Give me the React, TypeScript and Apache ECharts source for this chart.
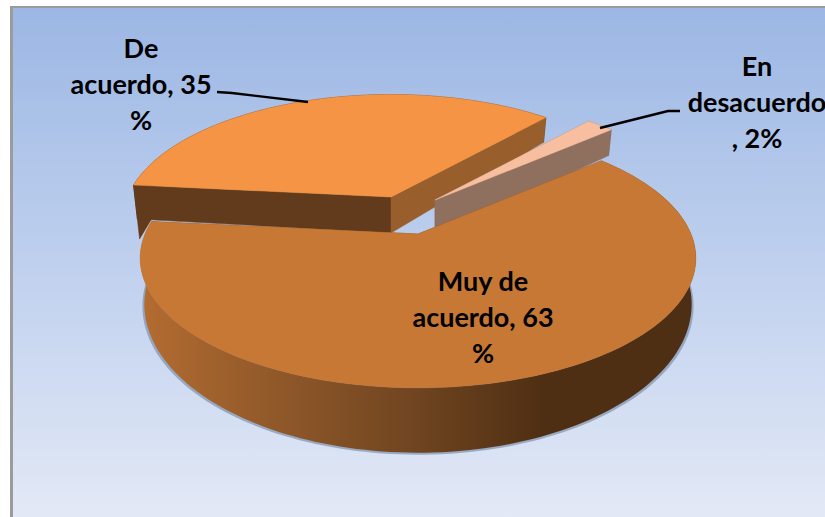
import React, { useEffect, useRef } from "react";
import * as echarts from "echarts";

const categories = ["De acuerdo", "En desacuerdo", "Muy de acuerdo"];
const percentages = [35, 2, 63];
const labelTexts = ["De\nacuerdo, 35\n%", "En\ndesacuerdo\n, 2%", "Muy de\nacuerdo, 63\n%"];

const FIRST_ANGLE = 185.8;
const CX = 418, CY = 234, RX = 273, RY = 125.2, K = 0.186;

const sliceStyles = [
  { dx: -27, dy: -37, scale: 0.965, depth: 36, pow: 3, top: "#f49444", startWall: "#623a1c", endWall: "#985e2b", outer: "#623a1c", tail: true },
  { dx: 17, dy: -34, scale: 0.955, depth: 36, pow: 3, top: "#f7bfa0", startWall: "#8f6f5e", endWall: "#8f6f5e", outer: "#8f6f5e", tail: false },
  { dx: 0, dy: 0, scale: 1, depth: 43, pow: 2, top: "#c77835", startWall: "#7a4a20", endWall: "#7a4a20", outer: "gradient", tail: false },
];

function project(deg: number, r: number, s: any, lower: boolean): number[] {
  const a = (deg * Math.PI) / 180;
  const X = Math.cos(a) * r * s.scale;
  const Y = Math.sin(a) * r * s.scale;
  const f = 1 / (1 - K * Y);
  const w = lower ? 0.985 : 1;
  const d = lower ? s.depth * Math.pow(f, s.pow) : 0;
  return [CX + s.dx + RX * X * f * w, CY + s.dy + RY * Y * f + d];
}

function arc(from: number, to: number, s: any, lower: boolean): number[][] {
  const out: number[][] = [];
  const n = Math.max(4, Math.ceil((to - from) / 1.5));
  for (let i = 0; i <= n; i++) out.push(project(from + ((to - from) * i) / n, 1, s, lower));
  return out;
}

const total = percentages.reduce((a, b) => a + b, 0);

export default function App() {
  const ref = useRef<HTMLDivElement>(null);
  useEffect(() => {
    document.body.style.margin = "0";
    const chart = echarts.init(ref.current!, undefined, { renderer: "svg" });
    const wallFill = new echarts.graphic.LinearGradient(
      140, 0, 697, 0,
      [
        { offset: 0, color: "#b46c31" },
        { offset: 0.25, color: "#8f5829" },
        { offset: 0.5, color: "#6f4420" },
        { offset: 0.72, color: "#4f2f13" },
        { offset: 1, color: "#4f2f13" },
      ],
      true as any
    );
    const renderItem = (params: any, api: any) => {
      const i = params.dataIndex;
      let before = 0;
      for (let j = 0; j < i; j++) before += percentages[j];
      const a0 = FIRST_ANGLE + (before / total) * 360;
      const a1 = a0 + (api.value(0) / total) * 360;
      const s = sliceStyles[i];
      const apexT = project(0, 0, s, false);
      const apexB = project(0, 0, s, true);
      const topArc = arc(a0, a1, s, false);
      const botArc = arc(a0, a1, s, true);
      const poly = (points: number[][], fill: any, extra: any = {}) => ({
        type: "polygon",
        shape: { points },
        style: { fill, stroke: fill === wallFill ? null : fill, lineWidth: 0.5, ...extra },
      });
      const children: any[] = [];
      if (s.outer === "gradient") {
        children.push(
          poly(
            botArc.map((p) => [CX + (p[0] - CX) * 1.007, p[1] + 2]).concat([apexB]),
            "#7f91ad",
            { opacity: 0.7, stroke: null }
          )
        );
      }
      if (s.tail) {
        const p = topArc[0];
        children.push(poly([p, [p[0] + 6, p[1] + 54], [p[0] + 18, p[1] + 34]], s.startWall));
      }
      children.push(poly([apexT, topArc[0], botArc[0], apexB], s.startWall));
      children.push(poly(topArc.concat(botArc.slice().reverse()), s.outer === "gradient" ? wallFill : s.outer));
      children.push(
        poly([apexT, topArc[topArc.length - 1], botArc[botArc.length - 1], apexB], s.endWall)
      );
      children.push(poly([apexT].concat(topArc), s.top));
      return { type: "group", children };
    };
    const font = 'bold 27px Lato, "Open Sans", sans-serif';
    const label = (text: string, x: number, y: number) => ({
      type: "text",
      z: 100,
      style: {
        text,
        x,
        y,
        font,
        fill: "#000000",
        textAlign: "center",
        textVerticalAlign: "top",
        lineHeight: 36,
      },
    });
    const leader = (points: number[][]) => ({
      type: "polyline",
      z: 90,
      shape: { points },
      style: { stroke: "#000000", lineWidth: 2.4, fill: null },
    });
    chart.setOption({
      animation: false,
      graphic: [
        { type: "rect", z: -20, shape: { x: 0, y: 0, width: 825, height: 517 }, style: { fill: "#ffffff" } },
        { type: "rect", z: -19, shape: { x: 10, y: 6, width: 815, height: 511 }, style: { fill: "#9b9b9b" } },
        {
          type: "rect",
          z: -18,
          shape: { x: 13, y: 8, width: 812, height: 509 },
          style: {
            fill: new echarts.graphic.LinearGradient(0, 0, 0, 1, [
              { offset: 0, color: "#9cb7e4" },
              { offset: 0.5, color: "#bfd0ee" },
              { offset: 1, color: "#e3e9f6" },
            ]),
          },
        },
        leader([[217, 92], [232, 93], [308, 102]]),
        leader([[680, 111], [668, 111], [600, 128]]),
        label(labelTexts[0], 141, 29),
        label(labelTexts[1], 757, 47),
        label(labelTexts[2], 483, 262),
      ],
      series: [
        {
          type: "custom",
          coordinateSystem: "none",
          silent: true,
          renderItem,
          data: categories.map((name, i) => ({ name, value: [percentages[i]] })),
        },
      ],
    });
    return () => chart.dispose();
  }, []);
  return <div ref={ref} style={{ position: "absolute", left: 0, top: 0, width: 825, height: 517 }} />;
}
